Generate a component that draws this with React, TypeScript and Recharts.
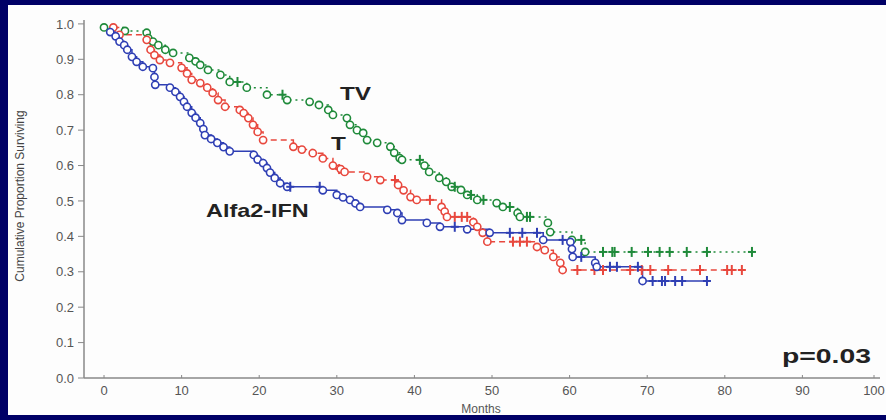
import { ComposedChart, Line, XAxis, YAxis } from 'recharts';

// Kaplan-Meier steps: [month, proportion surviving]
const IFN_EVENTS: [number, number][] = [
  [0.8, 0.977], [1.5, 0.965], [2.0, 0.95], [2.6, 0.94], [3.0, 0.927], [3.6, 0.907],
  [4.2, 0.893], [5.0, 0.879], [6.3, 0.875], [6.5, 0.85], [6.6, 0.828], [8.5, 0.82],
  [9.2, 0.808], [9.8, 0.794], [10.3, 0.78], [10.7, 0.766], [11.3, 0.749], [11.8, 0.735],
  [12.4, 0.72], [12.8, 0.703], [13.0, 0.686], [13.8, 0.675], [14.6, 0.664], [15.4, 0.652],
  [16.2, 0.64], [19.3, 0.63], [19.8, 0.617], [20.5, 0.607], [21.0, 0.593], [21.4, 0.58],
  [22.0, 0.565], [22.7, 0.55], [23.6, 0.54], [28.2, 0.53], [30.0, 0.517], [30.8, 0.51],
  [31.7, 0.503], [32.4, 0.493], [33.0, 0.483], [36.5, 0.475], [37.8, 0.466], [38.4, 0.446],
  [41.6, 0.438], [43.3, 0.427], [46.8, 0.42], [49.7, 0.41], [56.6, 0.39], [60.1, 0.384],
  [60.3, 0.364], [60.4, 0.342], [63.3, 0.325], [63.5, 0.314], [69.4, 0.274],
];
const IFN_CENSORED: [number, number][] = [
  [24.0, 0.54], [27.8, 0.54], [45.2, 0.427], [52.3, 0.41], [53.9, 0.41], [55.8, 0.41],
  [59.1, 0.39], [61.5, 0.342], [65.2, 0.314], [66.1, 0.314], [68.8, 0.314], [70.7, 0.274],
  [71.9, 0.274], [72.3, 0.274], [73.6, 0.274], [74.5, 0.274], [77.7, 0.274],
];

const T_EVENTS: [number, number][] = [
  [1.2, 0.99], [2.0, 0.969], [5.5, 0.955], [6.0, 0.927], [6.5, 0.912], [7.2, 0.898],
  [8.5, 0.89], [10.0, 0.876], [10.7, 0.86], [11.3, 0.842], [12.4, 0.833], [13.3, 0.82],
  [14.0, 0.805], [14.7, 0.785], [15.6, 0.766], [17.5, 0.757], [18.0, 0.748], [18.6, 0.734],
  [19.2, 0.715], [19.8, 0.695], [20.5, 0.672], [24.4, 0.653], [25.5, 0.645], [26.9, 0.635],
  [28.2, 0.62], [29.5, 0.6], [30.5, 0.59], [31.0, 0.582], [33.9, 0.568], [35.6, 0.559],
  [37.9, 0.545], [38.6, 0.53], [39.5, 0.511], [40.3, 0.503], [43.5, 0.483], [43.9, 0.47],
  [44.2, 0.455], [47.6, 0.44], [48.1, 0.427], [48.8, 0.41], [49.4, 0.385], [55.8, 0.37],
  [56.8, 0.361], [57.9, 0.342], [58.8, 0.325], [59.1, 0.305],
];
const T_CENSORED: [number, number][] = [
  [30.3, 0.59], [37.5, 0.559], [42.0, 0.503], [45.2, 0.455], [46.1, 0.455], [46.8, 0.455],
  [52.7, 0.385], [53.6, 0.385], [54.5, 0.385], [61.0, 0.305], [63.2, 0.305], [64.3, 0.305],
  [67.8, 0.305], [69.3, 0.305], [70.4, 0.305], [72.7, 0.305], [76.8, 0.305], [80.3, 0.305],
  [80.9, 0.305], [82.2, 0.305],
];

const TV_EVENTS: [number, number][] = [
  [0, 0.99], [2.7, 0.98], [5.5, 0.975], [5.7, 0.96], [6.3, 0.95], [7.0, 0.94], [7.9, 0.927],
  [8.9, 0.918], [11.0, 0.904], [11.8, 0.894], [12.4, 0.884], [13.4, 0.87], [15.0, 0.856],
  [16.2, 0.836], [18.4, 0.82], [21.0, 0.8], [23.6, 0.785], [26.5, 0.78], [27.7, 0.771],
  [28.9, 0.757], [29.5, 0.743], [31.3, 0.734], [31.7, 0.715], [32.6, 0.7], [33.4, 0.692],
  [33.9, 0.672], [35.2, 0.664], [36.9, 0.653], [37.4, 0.636], [38.1, 0.621], [38.4, 0.616],
  [41.3, 0.6], [41.9, 0.582], [43.2, 0.565], [44.1, 0.554], [44.8, 0.54], [46.0, 0.531],
  [46.8, 0.517], [48.1, 0.503], [50.6, 0.494], [51.4, 0.483], [53.3, 0.466], [53.6, 0.455],
  [57.2, 0.438], [57.5, 0.412], [60.3, 0.39], [62.0, 0.356],
];
const TV_CENSORED: [number, number][] = [
  [17.2, 0.836], [23.0, 0.8], [40.7, 0.616], [45.2, 0.54], [47.3, 0.517], [48.9, 0.503],
  [52.3, 0.483], [54.5, 0.455], [54.9, 0.455], [61.5, 0.39], [64.3, 0.356], [65.5, 0.356],
  [65.8, 0.356], [68.0, 0.356], [70.1, 0.356], [71.6, 0.356], [72.9, 0.356], [75.1, 0.356],
  [77.7, 0.356], [83.5, 0.356],
];

const X_TICKS = [0, 10, 20, 30, 40, 50, 60, 70, 80, 90, 100];
const Y_TICKS = [0, 0.1, 0.2, 0.3, 0.4, 0.5, 0.6, 0.7, 0.8, 0.9, 1.0];

const BLUE = '#2f3fb4';
const RED = '#e8483e';
const GREEN = '#1f8a3a';

function toRows(events: [number, number][], censored: [number, number][]) {
  return [
    ...events.map(([t, s]) => ({ t, s, c: 0 })),
    ...censored.map(([t, s]) => ({ t, s, c: 1 })),
  ].sort((a, b) => a.t - b.t || a.c - b.c);
}

function makeDot(color: string) {
  return (props: any) => {
    const { cx, cy, payload, index } = props;
    if (cx == null || cy == null) return <g key={index} />;
    if (payload.c) {
      return (
        <g key={index} stroke={color} strokeWidth={2}>
          <line x1={cx} y1={cy - 5} x2={cx} y2={cy + 5} />
          <line x1={cx - 4} y1={cy} x2={cx + 4} y2={cy} />
        </g>
      );
    }
    return (
      <circle key={index} cx={cx} cy={cy} r={3.6} fill="#fff" stroke={color} strokeWidth={1.6} />
    );
  };
}

function XTick(props: any) {
  const { x, y, payload } = props;
  return (
    <g>
      <line x1={x} y1={y - 8} x2={x} y2={y - 11} stroke="#888" strokeWidth={1} />
      <text
        x={x}
        y={y}
        dy="0.71em"
        textAnchor="middle"
        fill="#555"
        fontSize={13}
        fontFamily="'Liberation Sans Narrow', 'Liberation Sans', Arial, sans-serif"
      >
        {payload.value}
      </text>
    </g>
  );
}

const LABEL_FONT = "'Liberation Sans', Arial, sans-serif";

export default function App() {
  const ifn = toRows(IFN_EVENTS, IFN_CENSORED);
  const t = toRows(T_EVENTS, T_CENSORED);
  const tv = toRows(TV_EVENTS, TV_CENSORED);

  return (
    <div
      style={{
        position: 'absolute',
        left: 0,
        top: 0,
        width: 886,
        height: 420,
        background: '#000066',
        overflow: 'hidden',
      }}
    >
      <div
        style={{
          position: 'absolute',
          left: 8,
          top: 5,
          width: 878,
          height: 410,
          background: '#fdfdfd',
          overflow: 'hidden',
        }}
      >
        <ComposedChart width={878} height={410} margin={{ top: 15, right: 6, bottom: 7, left: 26 }}>
          <XAxis
            type="number"
            dataKey="t"
            domain={[-2.58, 100]}
            ticks={X_TICKS}
            allowDataOverflow
            height={30}
            tickSize={0}
            tickMargin={8}
            tick={<XTick />}
            axisLine={{ stroke: '#888', strokeWidth: 1.5 }}
          />
          <YAxis
            type="number"
            domain={[0, 1.011]}
            ticks={Y_TICKS}
            allowDataOverflow
            width={50}
            tickSize={6}
            tickMargin={4}
            tickFormatter={(v: number) => v.toFixed(1)}
            tick={{ fill: '#555', fontSize: 13, fontFamily: LABEL_FONT }}
            tickLine={{ stroke: '#888' }}
            axisLine={{ stroke: '#888', strokeWidth: 1.5 }}
          />
          <Line
            data={tv}
            dataKey="s"
            type="stepAfter"
            stroke={GREEN}
            strokeWidth={1.5}
            strokeDasharray="2 4"
            dot={makeDot(GREEN)}
            activeDot={false}
            isAnimationActive={false}
          />
          <Line
            data={t}
            dataKey="s"
            type="stepAfter"
            stroke={RED}
            strokeWidth={1.5}
            strokeDasharray="6 4"
            dot={makeDot(RED)}
            activeDot={false}
            isAnimationActive={false}
          />
          <Line
            data={ifn}
            dataKey="s"
            type="stepAfter"
            stroke={BLUE}
            strokeWidth={1.5}
            dot={makeDot(BLUE)}
            activeDot={false}
            isAnimationActive={false}
          />
        </ComposedChart>
        <svg
          width={878}
          height={410}
          style={{ position: 'absolute', left: 0, top: 0, pointerEvents: 'none' }}
        >
          <g fontFamily={LABEL_FONT} fontWeight="bold" fill="#222" fontSize={18}>
            <text transform="translate(332,95) scale(1.35,1)">TV</text>
            <text transform="translate(323,145) scale(1.35,1)">T</text>
            <text transform="translate(198,212) scale(1.3,1)">Alfa2-IFN</text>
            <text transform="translate(774,358) scale(1.35,1)" fontSize={21}>
              p=0.03
            </text>
          </g>
          <text
            transform="translate(16,191) rotate(-90)"
            textAnchor="middle"
            fontSize={12}
            fill="#444"
            fontFamily={LABEL_FONT}
          >
            Cumulative Proportion Surviving
          </text>
          <text
            x={473}
            y={408}
            textAnchor="middle"
            fontSize={12}
            fill="#555"
            fontFamily="'Liberation Sans Narrow', 'Liberation Sans', Arial, sans-serif"
          >
            Months
          </text>
        </svg>
      </div>
    </div>
  );
}
